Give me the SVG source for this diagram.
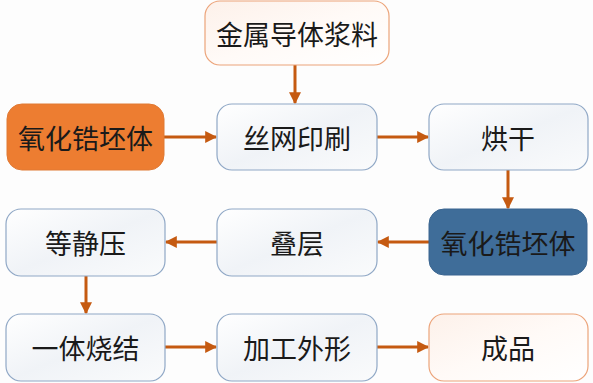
<svg xmlns="http://www.w3.org/2000/svg" width="593" height="383" viewBox="0 0 593 383">
<defs>
<style>
.t{font-family:"Noto Sans CJK SC","Noto Sans",sans-serif;font-size:27px;fill:#1a1a1a;text-anchor:middle;dominant-baseline:central}
.blue{fill:url(#gb);stroke:#90a8c6;stroke-width:1.2}
.peach{fill:url(#gp);stroke:#eca47a;stroke-width:1.2}
.c{stroke:#c55a11;stroke-width:3;fill:none;marker-end:url(#ah)}
</style>
<linearGradient id="gb" x1="0" y1="0" x2="1" y2="1">
<stop offset="0" stop-color="#ffffff"/>
<stop offset="0.5" stop-color="#f0f3f7"/>
<stop offset="1" stop-color="#fafbfc"/>
</linearGradient>
<linearGradient id="gp" x1="0" y1="0" x2="1" y2="1">
<stop offset="0" stop-color="#fdf1ea"/>
<stop offset="0.5" stop-color="#fffaf7"/>
<stop offset="1" stop-color="#ffffff"/>
</linearGradient>
<marker id="ah" viewBox="0 0 10 10" refX="9" refY="5" markerWidth="4" markerHeight="4" orient="auto" markerUnits="strokeWidth">
<path d="M0,0 L10,5 L0,10 z" fill="#c55a11"/>
</marker>
</defs>
<rect width="593" height="383" fill="#fdfdfd"/>
<g id="connectors">
<line class="c" x1="295" y1="65" x2="295" y2="103"/>
<line class="c" x1="164" y1="137" x2="216" y2="137"/>
<line class="c" x1="377" y1="137" x2="428" y2="137"/>
<line class="c" x1="508" y1="170" x2="508" y2="208"/>
<line class="c" x1="429" y1="242" x2="378" y2="242"/>
<line class="c" x1="217" y1="242" x2="166" y2="242"/>
<line class="c" x1="86" y1="276" x2="86" y2="313"/>
<line class="c" x1="165" y1="347" x2="216" y2="347"/>
<line class="c" x1="377" y1="347" x2="428" y2="347"/>
</g>
<g id="n1"><rect class="peach" x="205" y="1" width="184" height="64" rx="15"/><text class="t" x="297" y="33">金属导体浆料</text></g>
<g id="n2"><rect x="7" y="104" width="157" height="66" rx="15" fill="#ed7d31" stroke="#e07a35"/><text class="t" x="85.5" y="137">氧化锆坯体</text></g>
<g id="n3"><rect class="blue" x="217" y="104" width="160" height="66" rx="15"/><text class="t" x="297" y="137">丝网印刷</text></g>
<g id="n4"><rect class="blue" x="429" y="104" width="159" height="66" rx="15"/><text class="t" x="508" y="137">烘干</text></g>
<g id="n5"><rect x="429" y="209" width="158" height="66" rx="15" fill="#3f6d99" stroke="#3a6590"/><text class="t" x="508" y="242">氧化锆坯体</text></g>
<g id="n6"><rect class="blue" x="217" y="209" width="160" height="67" rx="15"/><text class="t" x="297" y="242">叠层</text></g>
<g id="n7"><rect class="blue" x="6" y="209" width="159" height="67" rx="15"/><text class="t" x="85.5" y="242">等静压</text></g>
<g id="n8"><rect class="blue" x="6" y="314" width="159" height="67" rx="15"/><text class="t" x="85.5" y="347">一体烧结</text></g>
<g id="n9"><rect class="blue" x="217" y="314" width="160" height="67" rx="15"/><text class="t" x="297" y="347">加工外形</text></g>
<g id="n10"><rect class="peach" x="429" y="314" width="159" height="67" rx="15"/><text class="t" x="508" y="347">成品</text></g>
</svg>
